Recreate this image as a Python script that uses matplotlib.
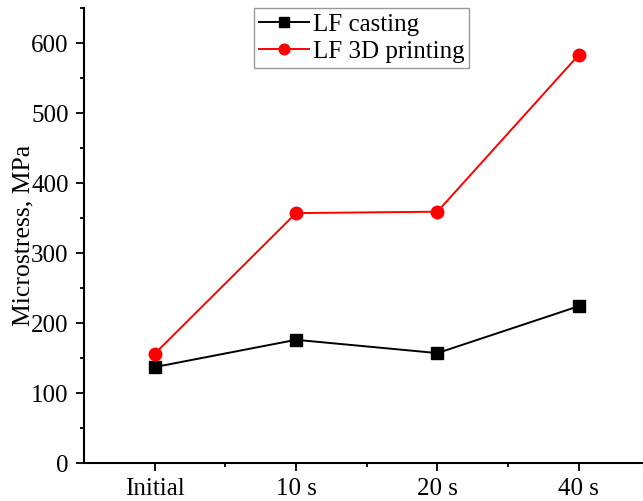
import matplotlib
matplotlib.use("Agg")
import matplotlib.pyplot as plt
from matplotlib.ticker import MultipleLocator

categories = ["Initial", "10 s", "20 s", "40 s"]
casting = [137, 176, 157, 224]
printing = [156, 357, 359, 583]

plt.rcParams['font.family'] = ['Liberation Serif', 'DejaVu Serif']

fig = plt.figure(figsize=(6.43, 5.01), dpi=100)
ax = fig.add_axes([84/643, 38/501, (643-84)/643 + 0.01, 455/501])

x = list(range(len(categories)))
ax.plot(x, casting, color='black', marker='s', markersize=8, linewidth=1.4, label='LF casting')
ax.plot(x, printing, color='red', marker='o', markersize=9, linewidth=1.4, label='LF 3D printing')

ax.set_xlim(-0.5, 3.5)
ax.set_ylim(0, 650)
ax.set_xticks(x)
ax.set_xticklabels(categories)
ax.set_xticks([0.5, 1.5, 2.5], minor=True)
ax.yaxis.set_major_locator(MultipleLocator(100))
ax.yaxis.set_minor_locator(MultipleLocator(50))
ax.tick_params(which='major', direction='out', length=6, width=1.3, labelsize=18, pad=5)
ax.tick_params(which='minor', direction='out', length=3, width=1.3)
for s in ['top', 'right']:
    ax.spines[s].set_visible(False)
for s in ['left', 'bottom']:
    ax.spines[s].set_linewidth(1.5)

ax.set_ylabel('Microstress, MPa', fontsize=18.5, labelpad=-2)

leg = ax.legend(loc='upper left', bbox_to_anchor=((252-84)/559, 1.0), fontsize=18,
                frameon=True, fancybox=False, edgecolor='gray', borderpad=0.2,
                handlelength=2.0, handletextpad=0.15, labelspacing=0.2, borderaxespad=0,
                markerscale=0.85)
leg.get_frame().set_linewidth(1.0)

fig.savefig('out.png', dpi=100)
